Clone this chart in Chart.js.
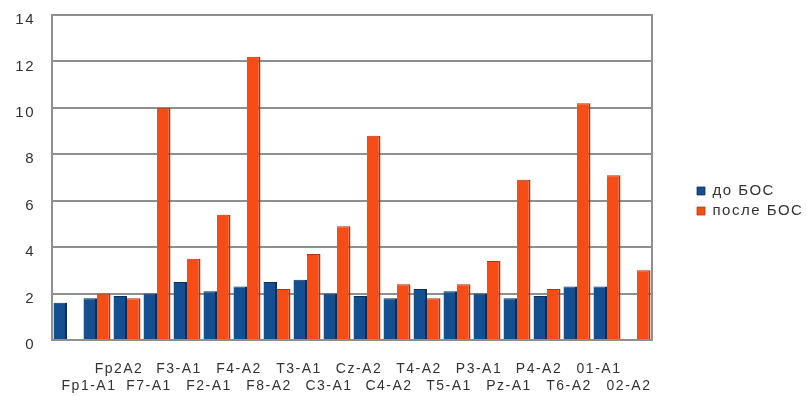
<!DOCTYPE html>
<html>
<head>
<meta charset="utf-8">
<script src="https://cdn.jsdelivr.net/npm/chart.js@4/dist/chart.umd.min.js"></script>
<style>
  html, body { margin: 0; padding: 0; background: #fff; }
  #wrap { width: 807px; height: 396px; }
</style>
</head>
<body>
<div id="wrap"><canvas id="chart-bar"></canvas></div>
<script>
const categories = ["", "Fp1-A1", "Fp2A2", "F7-A1", "F3-A1", "F2-A1", "F4-A2", "F8-A2", "T3-A1", "C3-A1",
  "Cz-A2", "C4-A2", "T4-A2", "T5-A1", "P3-A1", "Pz-A1", "P4-A2", "T6-A2", "01-A1", "02-A2"];
const before = [1.6, 1.8, 1.9, 2.0, 2.5, 2.1, 2.3, 2.5, 2.6, 2.0, 1.9, 1.8, 2.2, 2.1, 2.0, 1.8, 1.9, 2.3, 2.3, 0];
const after = [0, 2.0, 1.8, 10.0, 3.5, 5.4, 12.2, 2.2, 3.7, 4.9, 8.8, 2.4, 1.8, 2.4, 3.4, 6.9, 2.2, 10.2, 7.1, 3.0];
const yTicks = [0, 2, 4, 6, 8, 10, 12, 14];

// labels go on two rows, odd ones on top, even ones below
const stagger = categories.map((c, i) => (i % 2 == 0 ? [c, ""] : ["", c]));

const chartBox = document.getElementById("chart-bar");

// the original text is a bit spread out
const spacing = {
  id: "spacing",
  beforeUpdate: (chart) => { chart.ctx.letterSpacing = "1.5px"; },
  beforeDraw: (chart) => { chart.ctx.letterSpacing = "1.5px"; },
};

new Chart(chartBox, {
  type: "bar",
  plugins: [spacing],
  data: {
    labels: stagger,
    datasets: [
      {
        label: "до БОС",
        data: before,
        backgroundColor: "#134f91",
        borderColor: "#0b2f5a",
        borderWidth: { top: 1, right: 2 },
        borderSkipped: "bottom",
      },
      {
        label: "после БОС",
        data: after,
        backgroundColor: "#f64d17",
        borderColor: "#b8330a",
        borderWidth: { top: 1, right: 2 },
        borderSkipped: "bottom",
      },
    ],
  },
  options: {
    responsive: true,
    maintainAspectRatio: false,
    animation: false,
    layout: { padding: { top: 6, right: 0, bottom: 0, left: 2 } },
    datasets: { bar: { categoryPercentage: 0.9, barPercentage: 1.0 } },
    plugins: {
      tooltip: { enabled: false },
      legend: {
        position: "right",
        align: "center",
        maxWidth: 115,
        labels: {
          boxWidth: 8,
          boxHeight: 8,
          padding: 5,
          color: "#333",
          font: { family: "Liberation Sans", size: 15 },
        },
      },
    },
    scales: {
      x: {
        grid: { display: false },
        border: { display: true, color: "#8f8f8f", width: 2 },
        ticks: {
          autoSkip: false,
          maxRotation: 0,
          padding: 12,
          labelOffset: -8,
          color: "#333",
          font: { family: "Liberation Sans", size: 14, lineHeight: 1.25 },
        },
        afterFit: (axis) => {
          axis.height = 56;
        },
      },
      y: {
        min: 0,
        max: 14,
        afterBuildTicks: (axis) => {
          axis.ticks = yTicks.map((v) => ({ value: v }));
        },
        afterFit: (axis) => {
          axis.width = 50;
          axis.paddingTop = 15;
          axis.paddingBottom = 0;
        },
        grid: { color: "#8f8f8f", lineWidth: 2, drawTicks: false },
        border: { display: true, color: "#8f8f8f", width: 2 },
        ticks: {
          padding: 17,
          labelOffset: 5,
          color: "#333",
          font: { family: "Liberation Sans", size: 15 },
        },
      },
      gap: {
        position: "right",
        grid: { display: false },
        border: { display: true, color: "#8f8f8f", width: 2 },
        ticks: { display: false },
        afterFit: (axis) => {
          axis.width = 40;
        },
      },
    },
  },
});
</script>
</body>
</html>
